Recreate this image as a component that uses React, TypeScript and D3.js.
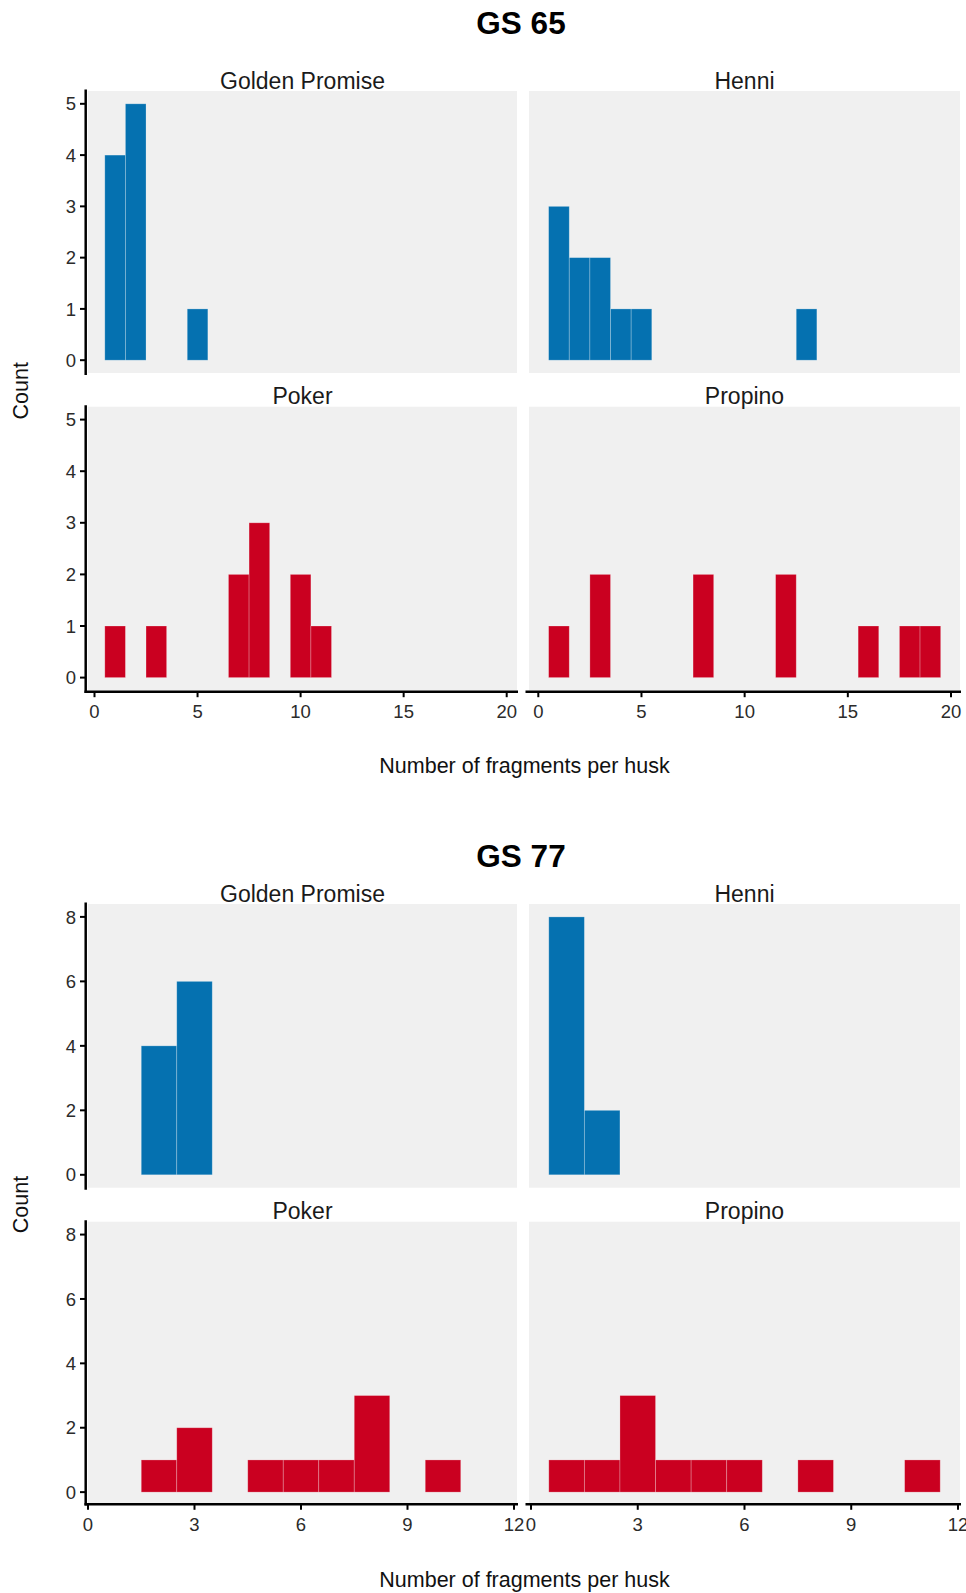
import React from "react";
import * as d3 from "d3";

// ---------- DATA ----------
const varieties = ["Golden Promise", "Henni", "Poker", "Propino"];
const varietyColors = ["#0571b0", "#0571b0", "#ca0020", "#ca0020"];

// [number of fragments (bin centre), count]
const gs65GoldenPromise: [number, number][] = [[1, 4], [2, 5], [5, 1]];
const gs65Henni: [number, number][] = [[1, 3], [2, 2], [3, 2], [4, 1], [5, 1], [13, 1]];
const gs65Poker: [number, number][] = [[1, 1], [3, 1], [7, 2], [8, 3], [10, 2], [11, 1]];
const gs65Propino: [number, number][] = [[1, 1], [3, 2], [8, 2], [12, 2], [16, 1], [18, 1], [19, 1]];

const gs77GoldenPromise: [number, number][] = [[2, 4], [3, 6]];
const gs77Henni: [number, number][] = [[1, 8], [2, 2]];
const gs77Poker: [number, number][] = [[2, 1], [3, 2], [5, 1], [6, 1], [7, 1], [8, 3], [10, 1]];
const gs77Propino: [number, number][] = [[1, 1], [2, 1], [3, 3], [4, 1], [5, 1], [6, 1], [8, 1], [11, 1]];

const gs65XTicks = [0, 5, 10, 15, 20];
const gs65YTicks = [0, 1, 2, 3, 4, 5];
const gs77XTicks = [0, 3, 6, 9, 12];
const gs77YTicks = [0, 2, 4, 6, 8];

const xTitle = "Number of fragments per husk";
const yTitle = "Count";

// ---------- LAYOUT ----------
const FONT = "'Liberation Sans', Arial, Helvetica, sans-serif";
const PANEL_BG = "#f0f0f0";
const W = 966;
const H = 1593;
const TICK_FS = 18.5;
const cols = [
  { x0: 88, x1: 517 },
  { x0: 529, x1: 960 },
];

const charts = [
  {
    title: "GS 65",
    panels: [gs65GoldenPromise, gs65Henni, gs65Poker, gs65Propino],
    xDomain: [0, 20],
    xRanges: [[94.5, 506.7], [538.3, 951]],
    yMax: 5,
    xTicks: gs65XTicks,
    yTicks: gs65YTicks,
    titleY: 34.3,
    rows: [{ top: 91, bottom: 373 }, { top: 406.7, bottom: 690.5 }],
    xAxisY: 691.7,
    tickLabelY: 717.5,
    axisTitleY: 773,
  },
  {
    title: "GS 77",
    panels: [gs77GoldenPromise, gs77Henni, gs77Poker, gs77Propino],
    xDomain: [0, 12],
    xRanges: [[88, 514], [531, 958]],
    yMax: 8,
    xTicks: gs77XTicks,
    yTicks: gs77YTicks,
    titleY: 866.7,
    rows: [{ top: 904, bottom: 1187.7 }, { top: 1221.7, bottom: 1505 }],
    xAxisY: 1504.3,
    tickLabelY: 1530.5,
    axisTitleY: 1587,
  },
];

function Chart({ c }: { c: (typeof charts)[number] }) {
  const yScales = c.rows.map((r) =>
    d3.scaleLinear().domain([-0.05 * c.yMax, 1.05 * c.yMax]).range([r.bottom, r.top])
  );
  const xScales = c.xRanges.map((rg) => d3.scaleLinear().domain(c.xDomain).range(rg));
  const centerX = (cols[0].x0 + cols[1].x1) / 2 + 0.5;
  const midY = (c.rows[0].top + c.rows[1].bottom) / 2;

  return (
    <g>
      <text x={521} y={c.titleY} textAnchor="middle" fontFamily={FONT} fontWeight="bold" fontSize={31.5} fill="#000">
        {c.title}
      </text>
      {c.panels.map((bins, i) => {
        const row = Math.floor(i / 2);
        const col = i % 2;
        const r = c.rows[row];
        const cl = cols[col];
        const x = xScales[col];
        const y = yScales[row];
        return (
          <g key={i}>
            <rect x={cl.x0} y={r.top} width={cl.x1 - cl.x0} height={r.bottom - r.top} fill={PANEL_BG} />
            {bins.map(([b, n], k) => (
              <rect
                key={k}
                x={x(b - 0.5)}
                y={y(n)}
                width={x(b + 0.5) - x(b - 0.5)}
                height={y(0) - y(n)}
                fill={varietyColors[i]}
                stroke="rgba(255,255,255,0.3)"
                strokeWidth={0.8}
              />
            ))}
            <text
              x={(cl.x0 + cl.x1) / 2}
              y={r.top - 2.5}
              textAnchor="middle"
              fontFamily={FONT}
              fontSize={23}
              fill="#1a1a1a"
            >
              {varieties[i]}
            </text>
          </g>
        );
      })}
      {/* Y axes (left column) */}
      {c.rows.map((r, ri) => {
        const y = yScales[ri];
        const yEnd = ri === 1 ? c.xAxisY + 1.2 : r.bottom + 2;
        return (
          <g key={"ya" + ri}>
            <line x1={85.7} x2={85.7} y1={r.top - 1.5} y2={yEnd} stroke="#000" strokeWidth={2.5} />
            {c.yTicks.map((t) => (
              <g key={t}>
                <line x1={80} x2={86} y1={y(t)} y2={y(t)} stroke="#000" strokeWidth={2} />
                <text
                  x={76}
                  y={y(t)}
                  dy="0.36em"
                  textAnchor="end"
                  fontFamily={FONT}
                  fontSize={TICK_FS}
                  fill="#2b2b2b"
                >
                  {t}
                </text>
              </g>
            ))}
          </g>
        );
      })}
      {/* X axes (bottom row) */}
      {cols.map((cl, ci) => {
        const x = xScales[ci];
        return (
          <g key={"xa" + ci}>
            <line
              x1={cl.x0 - 3.5}
              x2={cl.x1 + 1}
              y1={c.xAxisY}
              y2={c.xAxisY}
              stroke="#000"
              strokeWidth={2.5}
            />
            {c.xTicks.map((t) => (
              <g key={t}>
                <line x1={x(t)} x2={x(t)} y1={c.xAxisY} y2={c.xAxisY + 5.5} stroke="#000" strokeWidth={2} />
                <text x={x(t)} y={c.tickLabelY} textAnchor="middle" fontFamily={FONT} fontSize={TICK_FS} fill="#2b2b2b">
                  {t}
                </text>
              </g>
            ))}
          </g>
        );
      })}
      <text x={centerX} y={c.axisTitleY} textAnchor="middle" fontFamily={FONT} fontSize={21.5} fill="#111">
        {xTitle}
      </text>
      <text
        transform={`translate(27.5,${midY}) rotate(-90)`}
        textAnchor="middle"
        fontFamily={FONT}
        fontSize={21.5}
        fill="#111"
      >
        {yTitle}
      </text>
    </g>
  );
}

export default function App() {
  return (
    <svg
      width={W}
      height={H}
      viewBox={`0 0 ${W} ${H}`}
      style={{ position: "absolute", left: 0, top: 0, background: "#fff" }}
    >
      <rect x={0} y={0} width={W} height={H} fill="#fff" />
      {charts.map((c) => (
        <Chart key={c.title} c={c} />
      ))}
    </svg>
  );
}
